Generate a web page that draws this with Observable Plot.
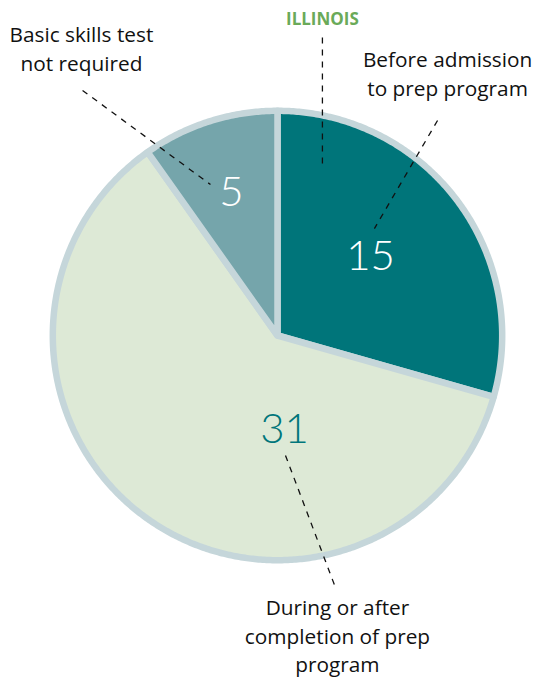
<!DOCTYPE html>
<html><head><meta charset="utf-8">
<script src="https://cdn.jsdelivr.net/npm/d3@7"></script>
<script src="https://cdn.jsdelivr.net/npm/@observablehq/plot@0.6"></script>
<style>html,body{margin:0;padding:0;background:#fff;}</style>
</head><body><div id="chart"></div>
<script>
// ---- data ----
const categories = ["Before admission to prep program", "During or after completion of prep program", "Basic skills test not required"];
const values = [15, 31, 5];
const valueLabels = ["15", "31", "5"];
const labelLines = [["Before admission", "to prep program"], ["During or after", "completion of prep", "program"], ["Basic skills test", "not required"]];
const title = "ILLINOIS";

// ---- layout / style ----
const W = 537, H = 682, CX = 277, CY = 335, R = 228; // pixel centre & radius of pie
const sliceColors = ["#00757a", "#dde9d6", "#75a5ab"];
const ringColor = "#c5d6da";
const numberColors = ["#ffffff", "#00767b", "#ffffff"];
const numFont = "Lato, 'Open Sans', sans-serif";
const labelFont = "'Open Sans', 'Noto Sans', sans-serif";
// value-label anchors (units of pie radius, y up)
const numPos = [[0.408, 0.345], [0.031, -0.414], [-0.202, 0.626]];
// category label anchors (centre x, first line y) & line gap
const catPos = [[0.746, 1.206], [0.263, -1.197], [-0.860, 1.316]];
const lineGap = 0.125;
const titlePos = [0.197, 1.386];
// leader lines [x1,y1,x2,y2]
const leaders = [
  [0.197, 1.307, 0.197, 0.754],
  [-0.855, 1.075, -0.294, 0.662],
  [0.702, 0.943, 0.425, 0.469],
  [0.035, -0.526, 0.254, -1.105]
];

// ---- build geometry from data ----
const arcs = d3.pie().sort(null).value(d => d)(values);
const rIn = 1 - 3.3 / R;
const poly = [];
arcs.forEach((a, i) => {
  poly.push({cat: categories[i], x: 0, y: 0});
  const n = Math.max(2, Math.ceil((a.endAngle - a.startAngle) / (Math.PI / 360)));
  for (let k = 0; k <= n; k++) {
    const t = a.startAngle + (a.endAngle - a.startAngle) * k / n;
    poly.push({cat: categories[i], x: rIn * Math.sin(t), y: rIn * Math.cos(t)});
  }
});
const nums = valueLabels.map((t, i) => ({t, x: numPos[i][0], y: numPos[i][1], c: numberColors[i]}));
const cats = [];
labelLines.forEach((lines, i) => lines.forEach((t, j) => cats.push({t, x: catPos[i][0], y: catPos[i][1] - j * lineGap})));
const links = leaders.map(([x1, y1, x2, y2]) => ({x1, y1, x2, y2}));

const chart = Plot.plot({
  width: W, height: H,
  margin: 0,
  x: {domain: [-CX / R, (W - CX) / R], axis: null},
  y: {domain: [-(H - CY) / R, CY / R], axis: null},
  color: {domain: categories, range: sliceColors},
  style: {background: "#fff", fontFamily: labelFont},
  marks: [
    Plot.line(poly, {x: "x", y: "y", z: "cat", fill: "cat", stroke: ringColor, strokeWidth: 6.5, strokeLinejoin: "round", curve: "linear-closed"}),
    Plot.link(links, {x1: "x1", y1: "y1", x2: "x2", y2: "y2", stroke: "#111", strokeWidth: 1.3, strokeDasharray: "6,6"}),
    Plot.text(nums, {x: "x", y: "y", text: "t", fill: d => d.c, fontSize: 42, fontWeight: 300, fontFamily: numFont}),
    Plot.text(cats, {x: "x", y: "y", text: "t", fill: "#111", fontSize: 20.8, fontFamily: labelFont}),
    Plot.text([title], {x: () => titlePos[0], y: () => titlePos[1], text: d => d, fill: "#6aaa59", fontSize: 17, fontWeight: "bold", fontFamily: labelFont})
  ]
});
document.getElementById("chart").appendChild(chart);
</script>
</body></html>
